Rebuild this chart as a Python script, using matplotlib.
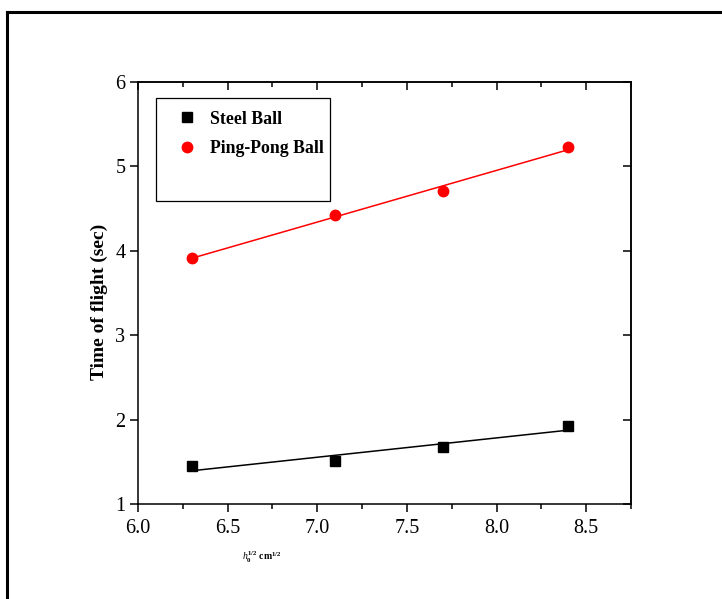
import matplotlib
matplotlib.use("Agg")
import matplotlib.pyplot as plt
import numpy as np
from matplotlib.lines import Line2D
from matplotlib.patches import Rectangle
from matplotlib.ticker import MultipleLocator, FormatStrFormatter

plt.rcParams['font.family'] = ['Liberation Serif', 'DejaVu Serif']
plt.rcParams['mathtext.fontset'] = 'custom'
plt.rcParams['mathtext.rm'] = 'Liberation Serif'
plt.rcParams['mathtext.it'] = 'Liberation Serif:italic'
plt.rcParams['mathtext.bf'] = 'Liberation Serif:bold'

steel_x = [6.3, 7.1, 7.7, 8.4]
steel_y = [1.45, 1.51, 1.67, 1.93]
ping_x = [6.3, 7.1, 7.7, 8.4]
ping_y = [3.92, 4.42, 4.71, 5.23]

fig = plt.figure(figsize=(7.22, 5.99), dpi=100)
ax = fig.add_axes([138/722, 1-504/599, (631-138)/722, (504-82)/599])

ax.plot(steel_x, steel_y, 's', color='black', markersize=6.5, label='Steel Ball', zorder=3)
ax.plot(ping_x, ping_y, 'o', color='red', markersize=7.5, label='Ping-Pong Ball', zorder=3)

xs = np.array([min(steel_x), max(steel_x)])
p1 = np.polyfit(steel_x, steel_y, 1)
p2 = np.polyfit(ping_x, ping_y, 1)
ax.plot(xs, np.polyval(p1, xs), '-', color='black', lw=1.1)
ax.plot(xs, np.polyval(p2, xs), '-', color='red', lw=1.1)

ax.set_xlim(6.0, 8.75)
ax.set_ylim(1, 6)
ax.xaxis.set_major_locator(MultipleLocator(0.5))
ax.xaxis.set_minor_locator(MultipleLocator(0.25))
ax.yaxis.set_major_locator(MultipleLocator(1))
ax.xaxis.set_major_formatter(FormatStrFormatter('%.1f'))

for s in ax.spines.values():
    s.set_linewidth(1.1)

ax.tick_params(axis='both', which='major', labelsize=14.5, width=1.1, length=6)
ax.tick_params(axis='x', which='major', pad=5)
ax.tick_params(axis='y', which='major', pad=3)
ax.tick_params(axis='x', which='minor', width=1.1, length=3.5)
ax.tick_params(axis='x', which='both', bottom=True, top=False, direction='out')
ax.tick_params(axis='y', which='both', left=True, right=False, direction='out')

ax_top = ax.secondary_xaxis('top')
ax_top.xaxis.set_major_locator(MultipleLocator(0.5))
ax_top.xaxis.set_minor_locator(MultipleLocator(0.25))
ax_top.tick_params(which='major', direction='in', length=6, width=1.1, labeltop=False)
ax_top.tick_params(which='minor', direction='in', length=3.5, width=1.1)
ax_top.spines['top'].set_linewidth(1.1)
ax_right = ax.secondary_yaxis('right')
ax_right.yaxis.set_major_locator(MultipleLocator(1))
ax_right.tick_params(which='major', direction='in', length=6, width=1.1, labelright=False)
ax_right.spines['right'].set_linewidth(1.1)

ax.set_ylabel('Time of flight (sec)', fontsize=14, fontweight='bold')
ax.yaxis.set_label_coords(-0.061, 0.479)

fig.text(262/722, 1-557/599, r'$\mathbf{\mathit{h}_0^{1/2}\ cm^{1/2}}$', fontsize=7,
         ha='center', va='center')

ax.add_patch(Rectangle((0.037, 0.718), 0.353, 0.244, transform=ax.transAxes,
                       fill=False, edgecolor='black', lw=0.9, zorder=4))
leg = ax.legend(loc='upper left', bbox_to_anchor=(0.048, 0.97), frameon=False,
                prop={'weight': 'bold', 'size': 12.8}, handletextpad=0.8,
                handlelength=1.0, labelspacing=0.72)

fig.add_artist(Line2D([7/722, 7/722], [0, 1-12/599], transform=fig.transFigure,
                      color='black', lw=2.2))
fig.add_artist(Line2D([7/722, 1.0], [1-12/599, 1-12/599], transform=fig.transFigure,
                      color='black', lw=2.2))

fig.savefig('out.png', dpi=100)
